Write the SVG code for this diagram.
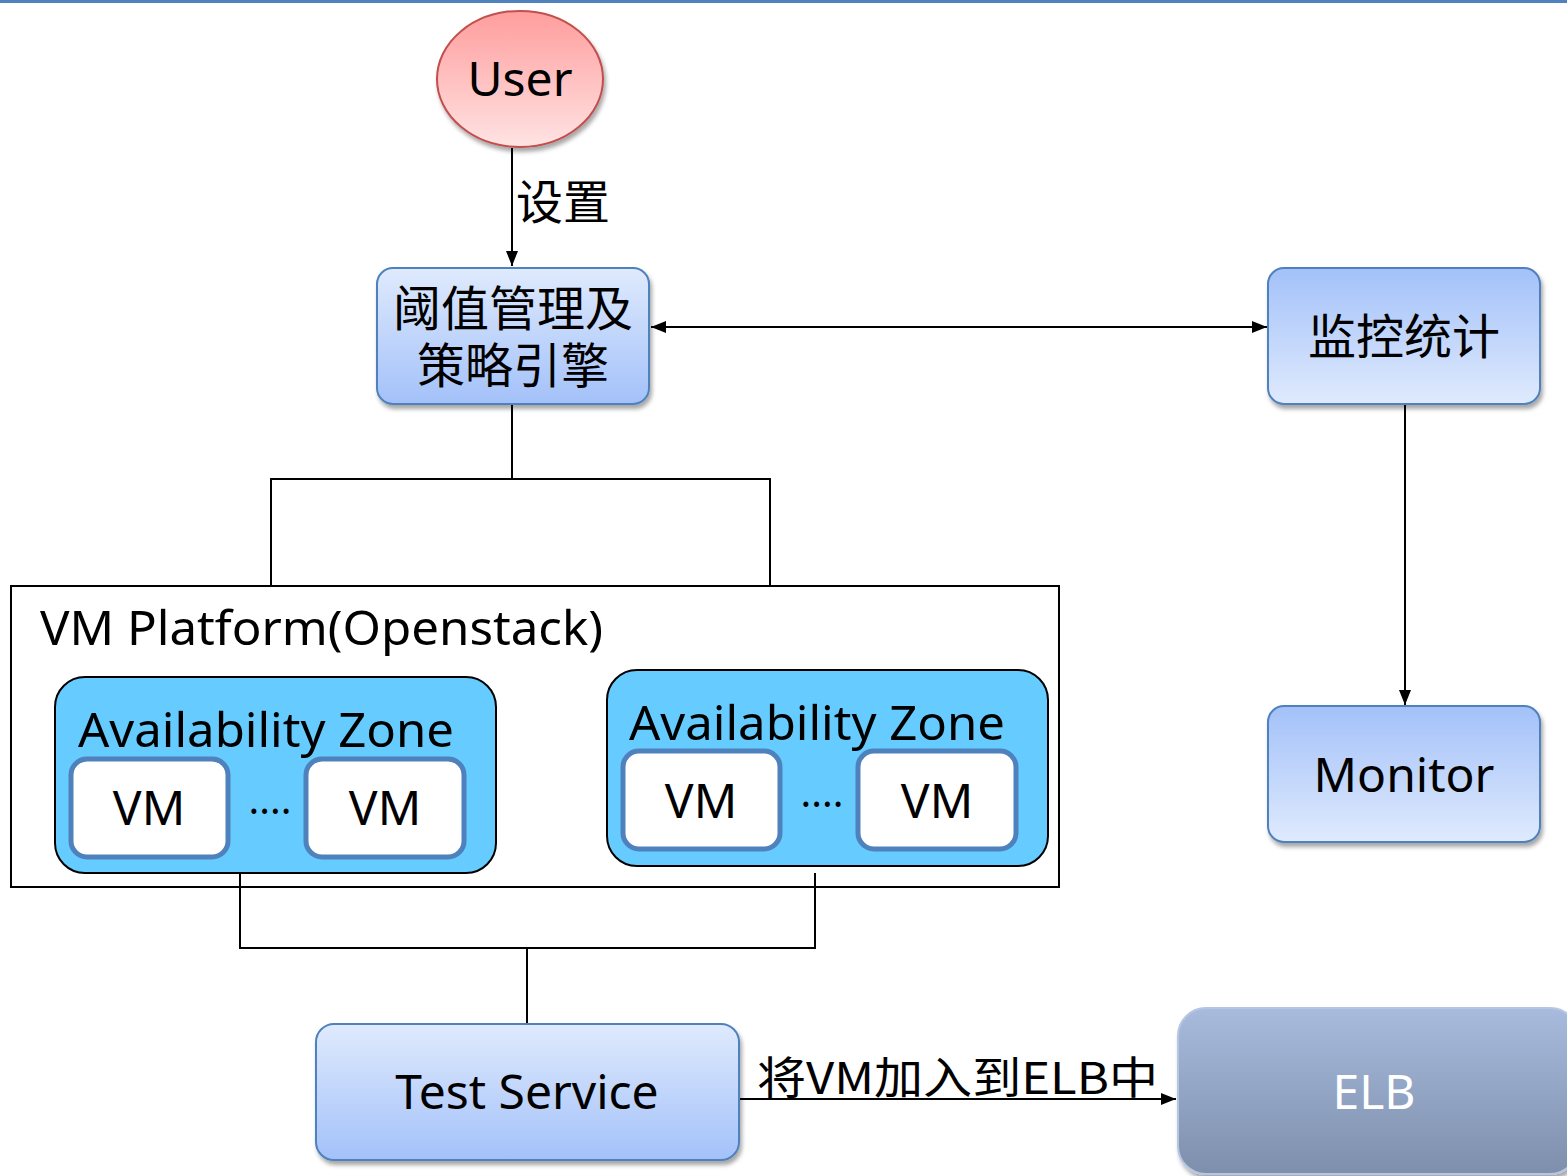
<svg xmlns="http://www.w3.org/2000/svg" width="1567" height="1176" viewBox="0 0 1567 1176">
<style>
text{font-family:"Noto Sans","Noto Sans CJK SC",sans-serif;fill:#000}
.cn{font-family:"Noto Sans CJK SC",sans-serif}
.conn{fill:none;stroke:#000;stroke-width:2}
.box{stroke:#4f81bd;stroke-width:2}
.vm{fill:#fff;stroke:#4f81bd;stroke-width:5}
.az{fill:#66ccff;stroke:#000;stroke-width:2}
</style>
<defs>
<linearGradient id="gDown" x1="0" y1="0" x2="0" y2="1"><stop offset="0" stop-color="#dfeafd"/><stop offset="1" stop-color="#a3c1f9"/></linearGradient>
<linearGradient id="gUp" x1="0" y1="0" x2="0" y2="1"><stop offset="0" stop-color="#a3c1f9"/><stop offset="1" stop-color="#dfeafd"/></linearGradient>
<linearGradient id="gUser" x1="0" y1="0" x2="0" y2="1"><stop offset="0" stop-color="#ff9d9d"/><stop offset="1" stop-color="#ffe3e3"/></linearGradient>
<linearGradient id="gElb" x1="0" y1="0" x2="0" y2="1"><stop offset="0" stop-color="#a8bbdd"/><stop offset="1" stop-color="#7e8fac"/></linearGradient>
<filter id="sh" x="-10%" y="-10%" width="125%" height="130%"><feDropShadow dx="2" dy="4" stdDeviation="2" flood-color="#000" flood-opacity="0.35"/></filter>
<marker id="arrL" viewBox="0 0 10 10" refX="10" refY="5" markerWidth="15" markerHeight="15" markerUnits="userSpaceOnUse" orient="auto-start-reverse"><path d="M0,1 L10,5 L0,9 z" fill="#000"/></marker>
</defs>
<rect width="1567" height="1176" fill="#fff"/>
<line x1="0" y1="1.5" x2="1567" y2="1.5" stroke="#4f81bd" stroke-width="3"/>

<g id="connectors">
<line class="conn" x1="512" y1="148" x2="512" y2="266" marker-end="url(#arrL)"/>
<line class="conn" x1="651" y1="327" x2="1267" y2="327" marker-start="url(#arrL)" marker-end="url(#arrL)"/>
<line class="conn" x1="1405" y1="405" x2="1405" y2="705" marker-end="url(#arrL)"/>
<polyline class="conn" points="512,405 512,479"/>
<polyline class="conn" points="271,586 271,479 770,479 770,586"/>
<polyline class="conn" points="240,873 240,948 815,948 815,873"/>
<line class="conn" x1="527" y1="948" x2="527" y2="1024"/>
<line class="conn" x1="740" y1="1099" x2="1176" y2="1099" marker-end="url(#arrL)"/>
<text class="cn" x="516" y="219" font-size="47">设置</text>
<text class="cn" x="757" y="1094" font-size="44" textLength="401" lengthAdjust="spacingAndGlyphs">将VM加入到ELB中</text>
</g>

<g id="user">
<ellipse cx="520" cy="79" rx="83" ry="68" fill="url(#gUser)" stroke="#c0504d" stroke-width="2" filter="url(#sh)"/>
<text x="520" y="96" font-size="48" text-anchor="middle">User</text>
</g>

<g id="policy">
<rect class="box" x="377" y="268" width="272" height="136" rx="16" fill="url(#gDown)" filter="url(#sh)"/>
<text class="cn" font-size="48" text-anchor="middle"><tspan x="513" y="326">阈值管理及</tspan><tspan x="513" y="383">策略引擎</tspan></text>
</g>

<g id="stats">
<rect class="box" x="1268" y="268" width="272" height="136" rx="16" fill="url(#gUp)" filter="url(#sh)"/>
<text class="cn" x="1404" y="354" font-size="48" text-anchor="middle">监控统计</text>
</g>

<g id="monitor">
<rect class="box" x="1268" y="706" width="272" height="136" rx="16" fill="url(#gUp)" filter="url(#sh)"/>
<text x="1404" y="792" font-size="48" text-anchor="middle">Monitor</text>
</g>

<g id="platform">
<rect x="11" y="586" width="1048" height="301" fill="none" stroke="#000" stroke-width="2"/>
<text x="40" y="645" font-size="48" textLength="563" lengthAdjust="spacingAndGlyphs">VM Platform(Openstack)</text>
</g>

<g id="az1">
<rect class="az" x="55" y="677" width="441" height="196" rx="30"/>
<text x="78" y="747" font-size="48" textLength="376" lengthAdjust="spacingAndGlyphs">Availability Zone</text>
<rect class="vm" x="71" y="759" width="157" height="98" rx="16"/>
<text x="149" y="825" font-size="48" text-anchor="middle">VM</text>
<text x="270" y="814" font-size="40" text-anchor="middle">....</text>
<rect class="vm" x="306" y="759" width="158" height="98" rx="16"/>
<text x="385" y="825" font-size="48" text-anchor="middle">VM</text>
</g>

<g id="az2">
<rect class="az" x="607" y="670" width="441" height="196" rx="30"/>
<text x="629" y="740" font-size="48" textLength="376" lengthAdjust="spacingAndGlyphs">Availability Zone</text>
<rect class="vm" x="623" y="751" width="157" height="98" rx="16"/>
<text x="701" y="818" font-size="48" text-anchor="middle">VM</text>
<text x="822" y="807" font-size="40" text-anchor="middle">....</text>
<rect class="vm" x="858" y="751" width="158" height="98" rx="16"/>
<text x="937" y="818" font-size="48" text-anchor="middle">VM</text>
</g>

<g id="test">
<rect class="box" x="316" y="1024" width="423" height="136" rx="18" fill="url(#gDown)" filter="url(#sh)"/>
<text x="527" y="1109" font-size="48" text-anchor="middle">Test Service</text>
</g>

<g id="elb">
<rect x="1178" y="1008" width="400" height="166" rx="28" fill="url(#gElb)" stroke="#b4c6e4" stroke-width="2" filter="url(#sh)"/>
<text x="1374" y="1109" font-size="48" text-anchor="middle" style="fill:#fff">ELB</text>
</g>
</svg>
